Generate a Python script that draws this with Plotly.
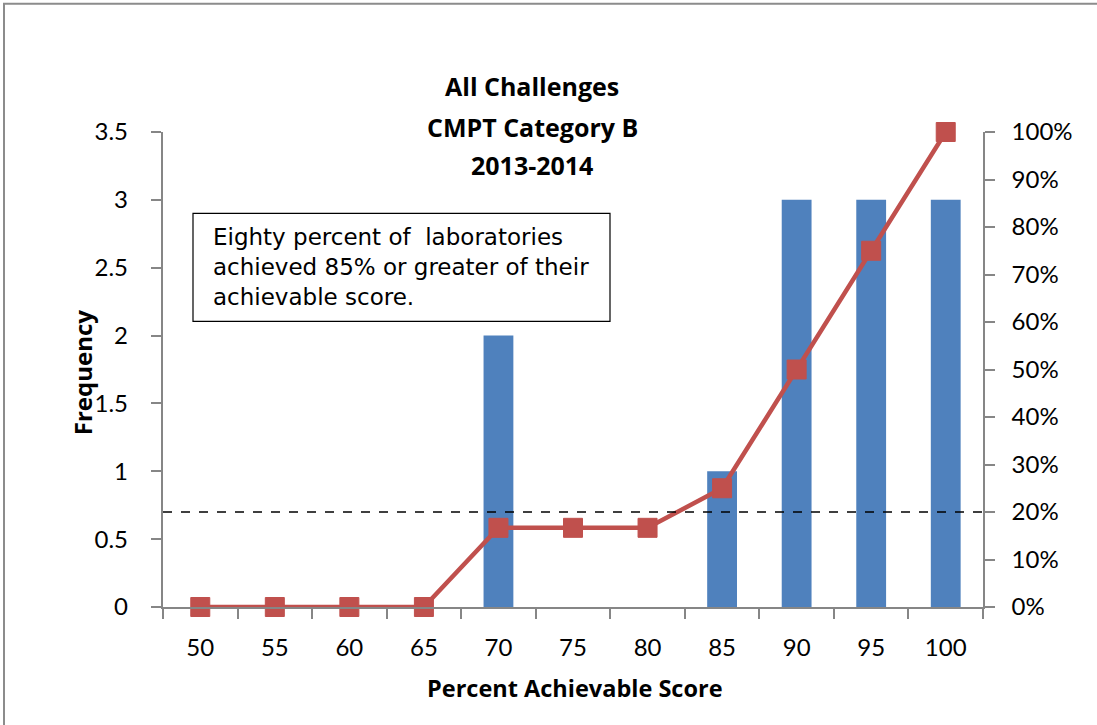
import plotly.graph_objects as go

categories = ["50", "55", "60", "65", "70", "75", "80", "85", "90", "95", "100"]
frequency = [0, 0, 0, 0, 2, 0, 0, 1, 3, 3, 3]
cumulative = [0, 0, 0, 0, 0.1667, 0.1667, 0.1667, 0.25, 0.5, 0.75, 1.0]
threshold = 0.2
title_lines = ["All Challenges", "CMPT Category B", "2013-2014"]
note_text = "Eighty percent of  laboratories<br>achieved 85% or greater of their<br>achievable score."

W, H = 1097, 725
L, R, T, B = 163, 983, 131.5, 607
pw, ph = R - L, B - T


def px(x):
    return (x - L) / pw


def py(y):
    return (B - y) / ph


BLUE = "#4F81BD"
RED = "#C0504D"
AX = "#868686"
FONT = "Lato, Carlito, Calibri, sans-serif"
BFONT = "Open Sans, sans-serif"

fig = go.Figure()
fig.add_trace(go.Bar(x=categories, y=frequency, marker=dict(color=BLUE, line=dict(width=0)),
                     yaxis="y", name="Frequency"))
fig.add_trace(go.Scatter(x=categories, y=cumulative, yaxis="y2", mode="lines+markers",
                         line=dict(color=RED, width=4.5), cliponaxis=False,
                         marker=dict(symbol="square", size=19, color=RED, line=dict(color=RED, width=1)),
                         name="Cumulative"))

axis_common = dict(showline=True, linecolor=AX, linewidth=1.5, ticks="outside", ticklen=10,
                   tickcolor=AX, tickwidth=1.5, showgrid=False, zeroline=False, automargin=False,
                   tickfont=dict(family=FONT, size=24, color="black"))

fig.update_layout(
    width=W, height=H,
    margin=dict(l=L, r=W - R, t=T, b=H - B, autoexpand=False),
    paper_bgcolor="white", plot_bgcolor="white",
    showlegend=False, bargap=0.6,
    xaxis=dict(type="category", range=[-0.5, 10.5], tickson="boundaries",
               ticklabelstandoff=18, **axis_common),
    yaxis=dict(range=[0, 3.5], dtick=0.5, ticksuffix="\u00a0\u00a0\u00a0", **axis_common),
    yaxis2=dict(range=[0, 1], dtick=0.1, tickformat=".0%", overlaying="y", side="right",
                ticklabelstandoff=12, **axis_common),
)

shapes = [
    dict(type="line", xref="paper", yref="y2", x0=0, x1=1, y0=threshold, y1=threshold,
         line=dict(color="black", width=1.5, dash="dash")),
    dict(type="rect", xref="paper", yref="paper", x0=px(193), x1=px(610), y0=py(321), y1=py(213),
         line=dict(color="black", width=1.2), fillcolor="rgba(255,255,255,0)"),
    dict(type="rect", xref="paper", yref="paper", x0=px(4), x1=px(1110), y0=py(740), y1=py(3),
         line=dict(color="#8c8c8c", width=2), layer="below"),
]
fig.update_layout(shapes=shapes)

anns = []
for line_text, yc in zip(title_lines, [85, 126, 165]):
    anns.append(dict(text="<b>%s</b>" % line_text, xref="paper", yref="paper", x=px(532), y=py(yc),
                     xanchor="center", yanchor="middle", showarrow=False,
                     font=dict(family=BFONT, size=25, color="black")))
anns.append(dict(text=note_text, xref="paper", yref="paper", x=px(211), y=py(267),
                 xanchor="left", yanchor="middle", align="left", showarrow=False,
                 font=dict(family="DejaVu Sans, sans-serif", size=23, color="black")))
anns.append(dict(text="<b>Frequency</b>", xref="paper", yref="paper", x=px(82), y=py(372),
                 xanchor="center", yanchor="middle", textangle=-90, showarrow=False,
                 font=dict(family=BFONT, size=24, color="black")))
anns.append(dict(text="<b>Percent Achievable Score</b>", xref="paper", yref="paper", x=px(575), y=py(688),
                 xanchor="center", yanchor="middle", showarrow=False,
                 font=dict(family=BFONT, size=23.5, color="black")))
fig.update_layout(annotations=anns)

fig.write_html("out.html", config={"displayModeBar": False},
               post_script="document.body.style.margin='0';")
